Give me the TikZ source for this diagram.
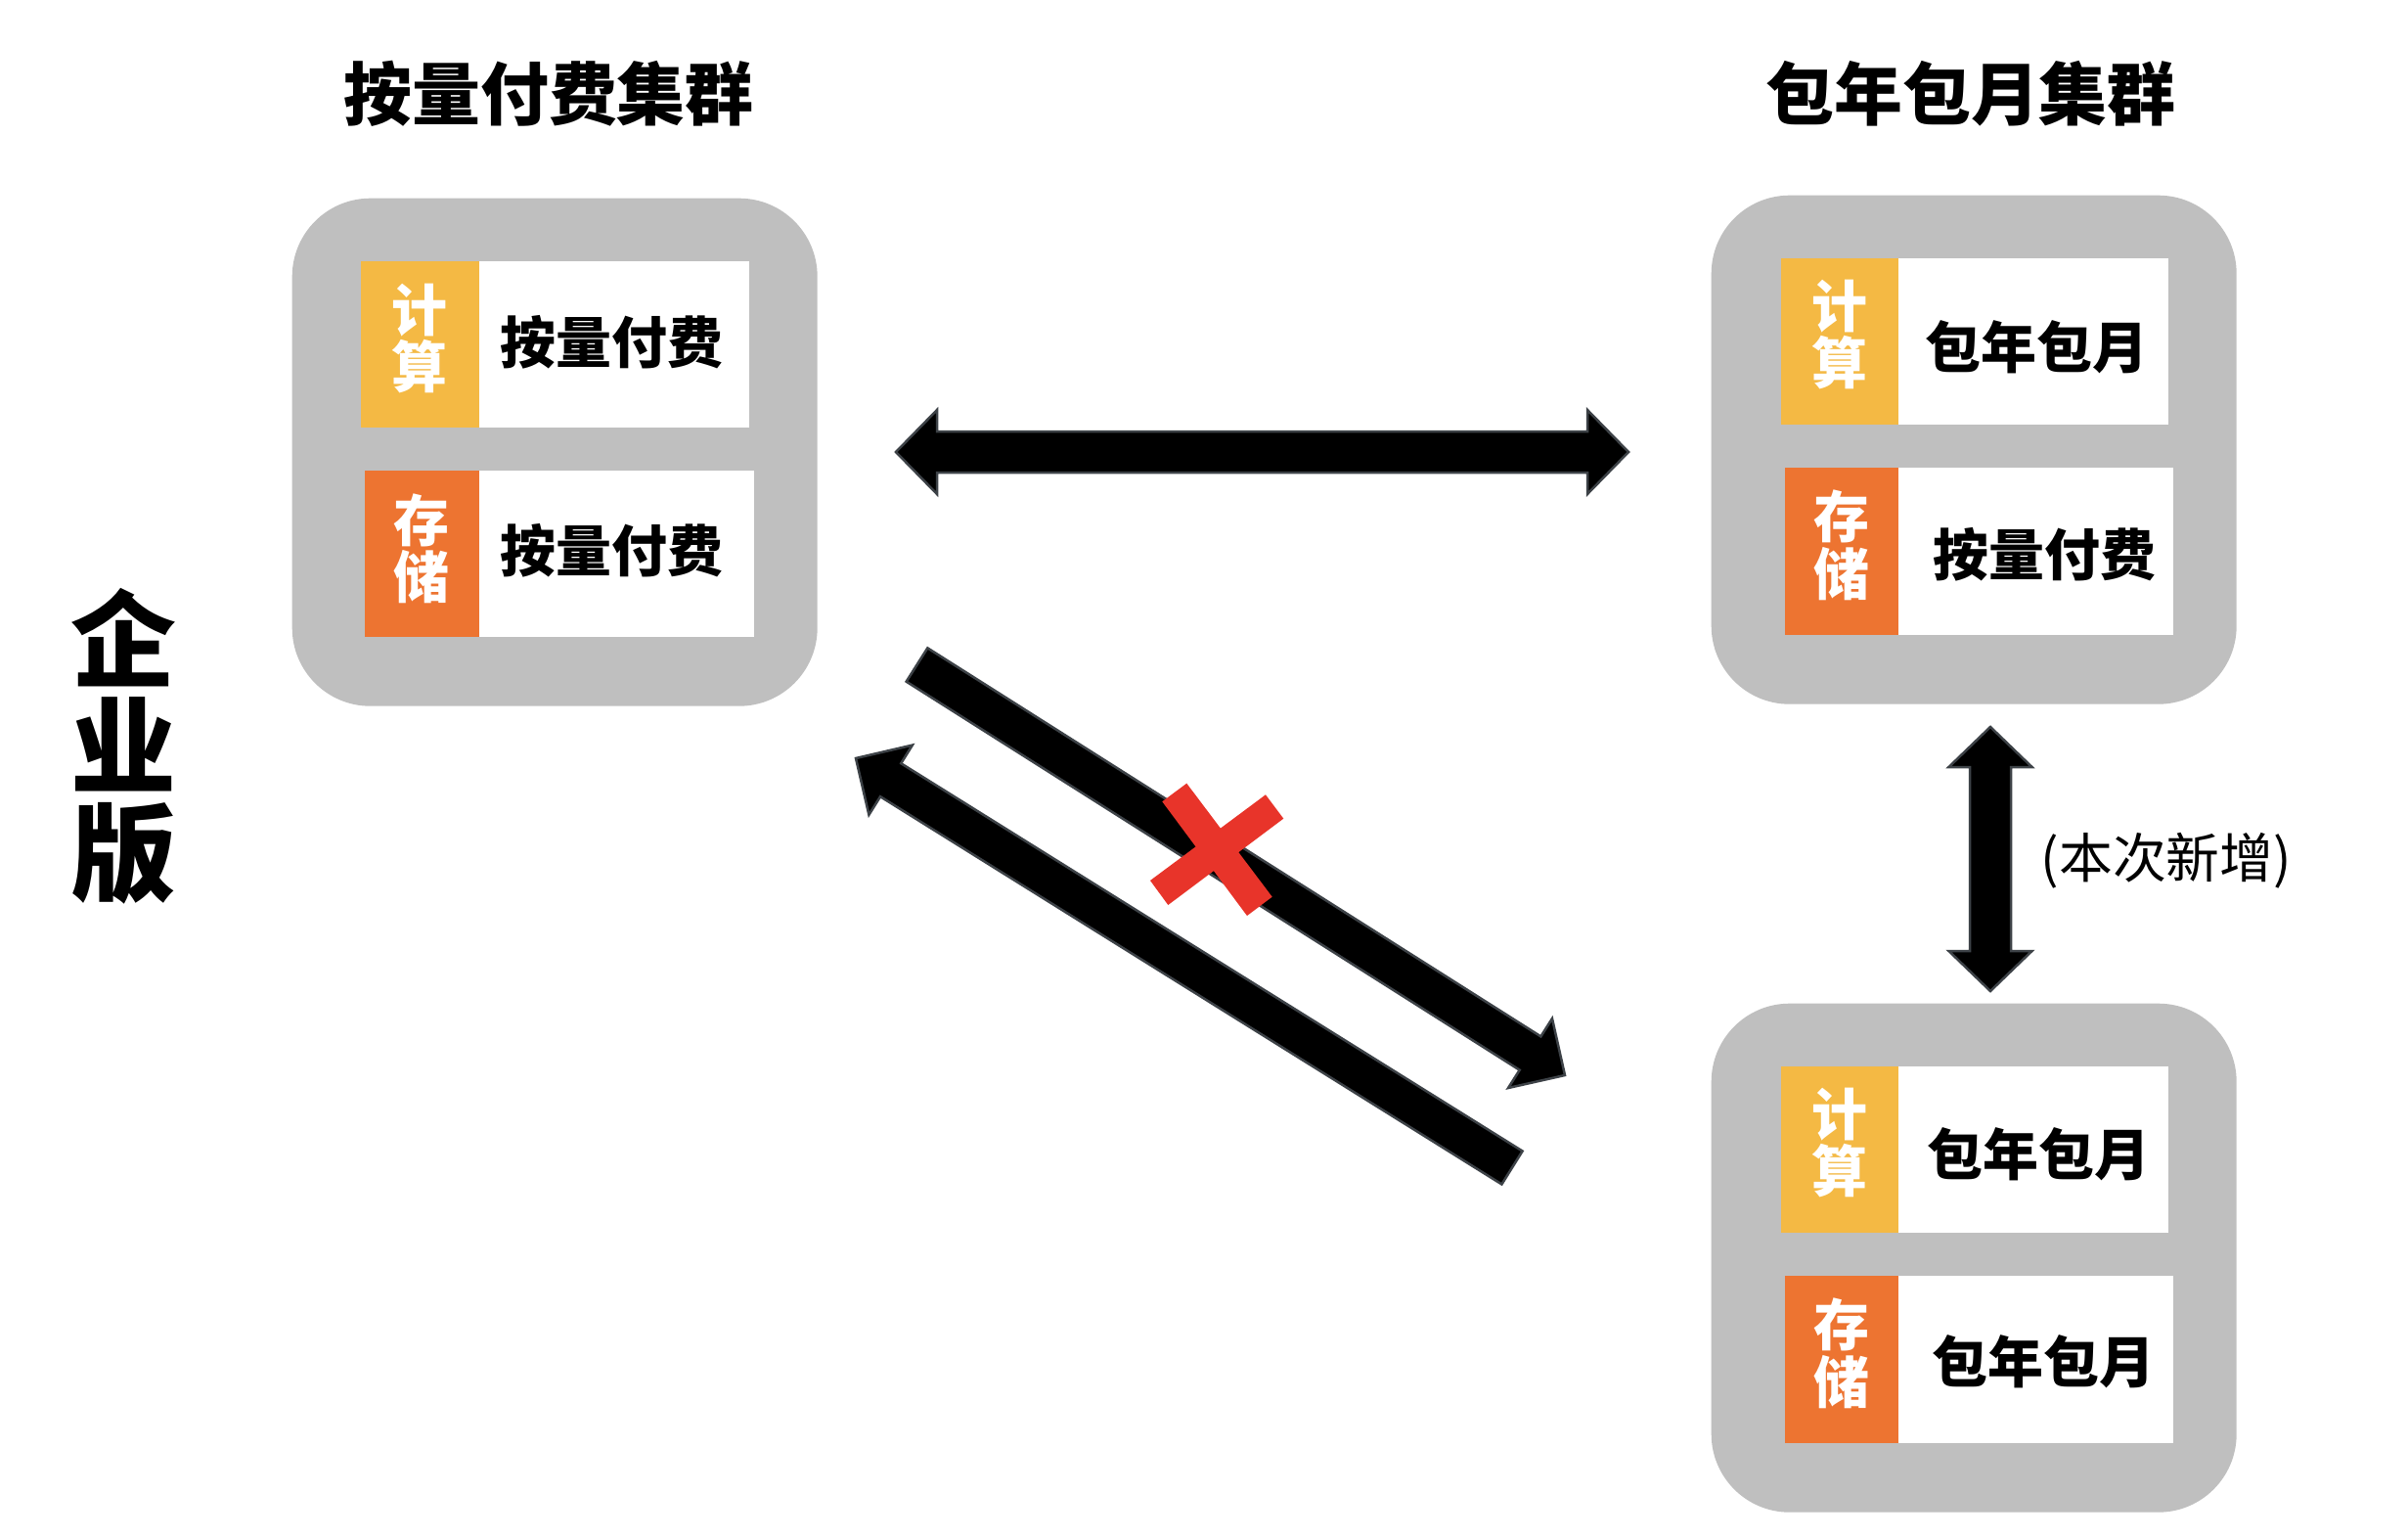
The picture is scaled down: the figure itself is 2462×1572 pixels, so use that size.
\documentclass[tikz,border=0pt]{standalone}
\usepackage{fontspec}
\newfontfamily\cjk{Noto Sans CJK SC}
\usetikzlibrary{calc}
\definecolor{boxgray}{HTML}{BFBFBF}
\definecolor{cyellow}{HTML}{F4B944}
\definecolor{corange}{HTML}{ED7431}
\definecolor{xred}{HTML}{E8342A}
\definecolor{aredge}{HTML}{3D4247}
\newcommand{\onearrow}[5]{% tail, tip, shaft half, head half, head length
  \coordinate (#2-hb) at ($(#2)!#5!(#1)$);
  \filldraw[blockarrow] ($(#1)!#3!90:(#2)$) -- ($(#2-hb)!#3!90:(#2)$) -- ($(#2-hb)!#4!90:(#2)$) -- (#2)
    -- ($(#2-hb)!#4!-90:(#2)$) -- ($(#2-hb)!#3!-90:(#2)$) -- ($(#1)!#3!-90:(#2)$) -- cycle;
}
\newcommand{\twoarrow}[5]{% tip A, tip B, shaft half, head half, head length
  \coordinate (#1-ha) at ($(#1)!#5!(#2)$);
  \coordinate (#2-hb) at ($(#2)!#5!(#1)$);
  \filldraw[blockarrow] (#1) -- ($(#1-ha)!#4!90:(#2)$) -- ($(#1-ha)!#3!90:(#2)$) -- ($(#2-hb)!#3!-90:(#1)$)
    -- ($(#2-hb)!#4!-90:(#1)$) -- (#2) -- ($(#2-hb)!#4!90:(#1)$) -- ($(#2-hb)!#3!90:(#1)$)
    -- ($(#1-ha)!#3!-90:(#2)$) -- ($(#1-ha)!#4!-90:(#2)$) -- cycle;
}
\begin{document}
\begin{tikzpicture}[x=0.1mm,y=-0.1mm,
  cluster/.style={fill=boxgray, rounded corners=8mm, anchor=north west, inner sep=0pt},
  tagbox/.style={anchor=north west, inner sep=0pt, minimum height=17mm},
  valbox/.style={fill=white, anchor=north west, inner sep=0pt, minimum height=17mm},
  tagtext/.style={font=\cjk\bfseries\fontsize{16.2pt}{16.6pt}\selectfont, text=white, align=center, inner sep=0pt},
  valtext/.style={font=\cjk\bfseries\fontsize{16.2pt}{17pt}\selectfont, inner sep=0pt},
  titletext/.style={font=\cjk\bfseries\fontsize{19.9pt}{21pt}\selectfont, inner sep=0pt},
  blockarrow/.style={fill=black, draw=aredge, line width=0.25mm, line join=miter},
  crossbar/.style={fill=xred}
]
\useasboundingbox (0,0) rectangle (2462,1572);
\fill[white] (0,0) rectangle (2462,1572);

% titles
\node[titletext] (t1) at (561,96) {按量付费集群};
\node[titletext] (t2) at (2015,96) {包年包月集群};
\node[font=\cjk\bfseries\fontsize{30.7pt}{31pt}\selectfont, align=center, inner sep=0pt] (ent) at (126,763) {企\\业\\版};

% left cluster
\node[cluster, minimum width=53.7mm, minimum height=51.9mm] (c1) at (298,202) {};
\node[tagbox, fill=cyellow, minimum width=12.1mm] (c1ct) at (368,266) {};
\node[valbox, minimum width=27.6mm] (c1cv) at (489,266) {};
\node[tagbox, fill=corange, minimum width=11.7mm] (c1st) at (372,480) {};
\node[valbox, minimum width=28.1mm] (c1sv) at (489,480) {};
\node[tagtext] at ($(c1ct.center)+(0,-6)$) {计\\算};
\node[tagtext] at ($(c1st.center)+(0,-5)$) {存\\储};
\node[valtext] at ($(c1cv.center)+(-2,-2)$) {按量付费};
\node[valtext] at ($(c1sv.center)+(-5,-3)$) {按量付费};

% right top cluster
\node[cluster, minimum width=53.7mm, minimum height=52mm] (c2) at (1749,199) {};
\node[tagbox, fill=cyellow, minimum width=12mm] (c2ct) at (1820,263) {};
\node[valbox, minimum width=27.6mm] (c2cv) at (1940,263) {};
\node[tagbox, fill=corange, minimum width=11.6mm, minimum height=17.1mm] (c2st) at (1824,477) {};
\node[valbox, minimum width=28.1mm, minimum height=17.1mm] (c2sv) at (1940,477) {};
\node[tagtext] at ($(c2ct.center)+(0,-7)$) {计\\算};
\node[tagtext] at ($(c2st.center)+(0,-6)$) {存\\储};
\node[valtext] at ($(c2cv.center)+(4,6)$) {包年包月};
\node[valtext] at ($(c2sv.center)+(9,4)$) {按量付费};

% right bottom cluster
\node[cluster, minimum width=53.7mm, minimum height=52mm] (c3) at (1749,1025) {};
\node[tagbox, fill=cyellow, minimum width=12mm] (c3ct) at (1820,1089) {};
\node[valbox, minimum width=27.6mm] (c3cv) at (1940,1089) {};
\node[tagbox, fill=corange, minimum width=11.6mm, minimum height=17.1mm] (c3st) at (1824,1303) {};
\node[valbox, minimum width=28.1mm, minimum height=17.1mm] (c3sv) at (1940,1303) {};
\node[tagtext] at ($(c3ct.center)+(0,-7)$) {计\\算};
\node[tagtext] at ($(c3st.center)+(0,-6)$) {存\\储};
\node[valtext] at ($(c3cv.center)+(6,5)$) {包年包月};
\node[valtext] at ($(c3sv.center)+(8,3)$) {包年包月};

% arrows
\coordinate (h1a) at (916,462);
\coordinate (h1b) at (1665,462);
\twoarrow{h1a}{h1b}{2.1mm}{4.3mm}{4.2mm}
\coordinate (v1a) at (2035,743);
\coordinate (v1b) at (2035,1013);
\twoarrow{v1a}{v1b}{2.1mm}{4.25mm}{4.1mm}
\coordinate (d1t) at (937.5,679.5);
\coordinate (d1p) at (1600,1099);
\onearrow{d1t}{d1p}{2.03mm}{4.2mm}{4.2mm}
\coordinate (d2t) at (1546,1193.5);
\coordinate (d2p) at (875,775);
\onearrow{d2t}{d2p}{2.0mm}{4.2mm}{4.2mm}

% red cross
\fill[crossbar] (1188.3,819.3) -- (1213.3,800.7) -- (1300.7,916.7) -- (1275,936) -- cycle;
\fill[crossbar] (1176,900) -- (1194.3,925) -- (1312.3,836.7) -- (1294,812.3) -- cycle;

\node[font=\cjk\fontsize{15.6pt}{16pt}\selectfont, anchor=west, inner sep=0pt] (new) at (2086,880) {(本次新增)};
\end{tikzpicture}
\end{document}
